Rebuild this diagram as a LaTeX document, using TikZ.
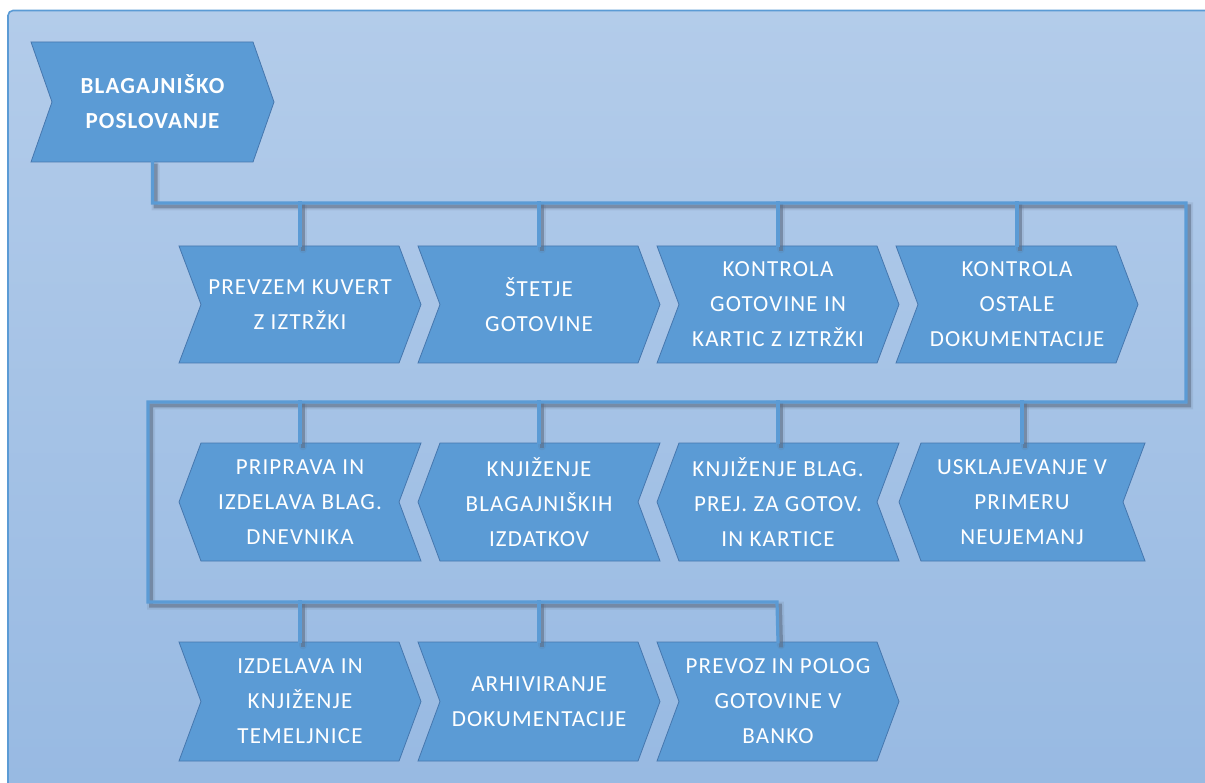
\documentclass[tikz,border=0pt]{standalone}
\usepackage{fontspec}
\setmainfont{Carlito}
\newfontfamily\stepfont[LetterSpace=5]{Carlito}
\usetikzlibrary{calc}
\definecolor{panelTop}{HTML}{B3CCEA}
\definecolor{panelBot}{HTML}{97B9E2}
\definecolor{accent}{HTML}{5B9BD5}
\definecolor{accentDark}{HTML}{4677AE}
\definecolor{wireShadow}{HTML}{5F6F86}
\tikzset{
  x=1pt, y=-1pt,
  chevfill/.style={fill=accent, draw=accentDark, line width=0.8pt, line join=miter},
  label/.style={text=white, align=center, inner sep=0pt, font=\stepfont\fontsize{23}{35}\selectfont},
  toplabel/.style={label, font=\stepfont\fontsize{23}{35}\selectfont\bfseries},
  wire/.style={draw=accent, line width=3.2pt, line cap=rect},
  wireshade/.style={draw=wireShadow, line width=4pt, opacity=0.6, line cap=rect, transform canvas={shift={(3pt,-3.5pt)}}},
  wirehaze/.style={draw=wireShadow, line width=8pt, opacity=0.15, line cap=round, transform canvas={shift={(3pt,-3.5pt)}}}
}
% right-pointing chevron: name, left x, top y, width, height, depth, text, style
\newcommand\chevright[8]{%
  \path[chevfill] (#2,#3) -- (#2+#4-#6,#3) -- (#2+#4,#3+#5/2) -- (#2+#4-#6,#3+#5)
     -- (#2,#3+#5) -- (#2+#6,#3+#5/2) -- cycle;
  \node[#8, minimum width=#4, minimum height=#5] (#1) at (#2+#4/2,#3+#5/2) {#7};}
% left-pointing chevron
\newcommand\chevleft[8]{%
  \path[chevfill] (#2+#6,#3) -- (#2+#4,#3) -- (#2+#4-#6,#3+#5/2) -- (#2+#4,#3+#5)
     -- (#2+#6,#3+#5) -- (#2,#3+#5/2) -- cycle;
  \node[#8, minimum width=#4, minimum height=#5] (#1) at (#2+#4/2,#3+#5/2) {#7};}
\begin{document}
\begin{tikzpicture}
\useasboundingbox (0,0) rectangle (1205,783);
% panel
\path[draw=accent, line width=1.6pt, rounded corners=5pt, top color=panelTop, bottom color=panelBot]
  (8,10.5) rectangle (1230,810);

% process steps
\chevright{top}{31}{42}{243}{120}{21}{BLAGAJNIŠKO\\POSLOVANJE}{toplabel}

\chevright{a1}{179}{246}{242}{117}{22}{PREVZEM KUVERT\\Z IZTRŽKI}{label}
\chevright{a2}{418}{246}{242}{117}{22}{ŠTETJE\\GOTOVINE}{label}
\chevright{a3}{657}{246}{242}{117}{22}{KONTROLA\\GOTOVINE IN\\KARTIC Z IZTRŽKI}{label}
\chevright{a4}{896}{246}{242}{117}{22}{KONTROLA\\OSTALE\\DOKUMENTACIJE}{label}

\chevleft{b1}{179}{443}{242}{118}{22}{PRIPRAVA IN\\IZDELAVA BLAG.\\DNEVNIKA}{label}
\chevleft{b2}{418}{443}{242}{118}{22}{KNJIŽENJE\\BLAGAJNIŠKIH\\IZDATKOV}{label}
\chevleft{b3}{657}{443}{242}{118}{22}{KNJIŽENJE BLAG.\\PREJ. ZA GOTOV.\\IN KARTICE}{label}
\chevleft{b4}{899}{443}{246}{118}{22}{USKLAJEVANJE V\\PRIMERU\\NEUJEMANJ}{label}

\chevright{c1}{179}{642}{242}{119}{22}{IZDELAVA IN\\KNJIŽENJE\\TEMELJNICE}{label}
\chevright{c2}{418}{642}{242}{119}{22}{ARHIVIRANJE\\DOKUMENTACIJE}{label}
\chevright{c3}{657}{642}{242}{119}{22}{PREVOZ IN POLOG\\GOTOVINE V\\BANKO}{label}

% bends of the main line
\coordinate (turnA) at (1186,203);
\coordinate (turnB) at (148,402);
\coordinate (turnC) at (777,602);

% connectors: shadow first, then the line itself
\foreach \sty in {wirehaze,wireshade,wire}{
  \path[\sty] (top.south) |- (turnA) |- (turnB) |- (turnC) -- (c3.north);
  \foreach \n in {a1,a2,a3,a4}{\path[\sty] (\n.north) -- (\n.north |- turnA);}
  \foreach \n in {b1,b2,b3,b4}{\path[\sty] (\n.north) -- (\n.north |- turnB);}
  \foreach \n in {c1,c2}{\path[\sty] (\n.north) -- (\n.north |- turnC);}
}
\end{tikzpicture}
\end{document}
